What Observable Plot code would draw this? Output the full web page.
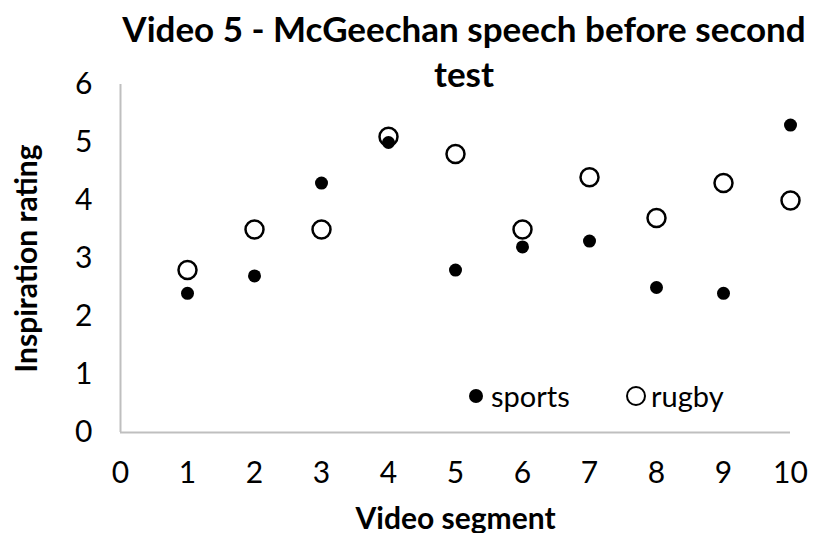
<!DOCTYPE html>
<html><head><meta charset="utf-8">
<script src="https://cdn.jsdelivr.net/npm/d3@7"></script>
<script src="https://cdn.jsdelivr.net/npm/@observablehq/plot@0.6"></script>
<style>
body{margin:0;background:#fff;font-family:Lato,"Open Sans",sans-serif;}
#wrap{position:relative;width:813px;height:533px;overflow:hidden;}
#title{position:absolute;left:64px;width:800px;top:6px;text-align:center;font-weight:bold;font-size:35px;line-height:45px;color:#000;}
.leg{position:absolute;top:378px;font-size:29px;color:#000;display:flex;align-items:center;}
.sym{display:inline-block;border-radius:50%;margin-right:8px;box-sizing:border-box;}
</style></head>
<body>
<div id="wrap">
<div id="title">Video 5 - McGeechan speech before second<br>test</div>
<div id="chart"></div>
<div class="leg" style="left:469px"><span class="sym" style="width:14px;height:14px;background:#000"></span>sports</div>
<div class="leg" style="left:626px"><span class="sym" style="width:20px;height:20px;border:2.5px solid #000;margin-right:5px"></span>rugby</div>
</div>
<script>
const segments = [1,2,3,4,5,6,7,8,9,10];
const sports = [2.4,2.7,4.3,5.0,2.8,3.2,3.3,2.5,2.4,5.3];
const rugby  = [2.8,3.5,3.5,5.1,4.8,3.5,4.4,3.7,4.3,4.0];
const xTicks = [0,1,2,3,4,5,6,7,8,9,10];
const yTicks = [0,1,2,3,4,5,6];

const sData = segments.map((s,i)=>({x:s,y:sports[i]}));
const rData = segments.map((s,i)=>({x:s,y:rugby[i]}));

const chart = Plot.plot({
  width:813, height:533,
  marginLeft:120, marginRight:23, marginTop:84, marginBottom:101,
  style:{fontFamily:"Lato, 'Open Sans', sans-serif", fontSize:"30px", color:"#000", background:"#fff"},
  x:{domain:[0,10], label:null},
  y:{domain:[0,6], label:null},
  marks:[
    Plot.ruleX([0],{stroke:"#bfbfbf",strokeWidth:2}),
    Plot.ruleY([0],{stroke:"#bfbfbf",strokeWidth:2}),
    Plot.axisX({ticks:xTicks, tickSize:0, tickPadding:29, tickFormat:"d", label:null, fontSize:30}),
    Plot.axisY({ticks:yTicks, tickSize:0, tickPadding:28, tickFormat:"d", label:null, fontSize:30}),
    Plot.dot(rData,{x:"x",y:"y",r:9,stroke:"#000",strokeWidth:2.5,fill:"#fff"}),
    Plot.dot(sData,{x:"x",y:"y",r:6.5,fill:"#000"}),
    Plot.text(["Video segment"],{frameAnchor:"bottom",dy:96,fontWeight:"bold",fontSize:30}),
    Plot.text(["Inspiration rating"],{frameAnchor:"left",textAnchor:"middle",dx:-93,rotate:-90,fontWeight:"bold",fontSize:30})
  ]
});
document.getElementById("chart").appendChild(chart);
</script>
</body></html>
